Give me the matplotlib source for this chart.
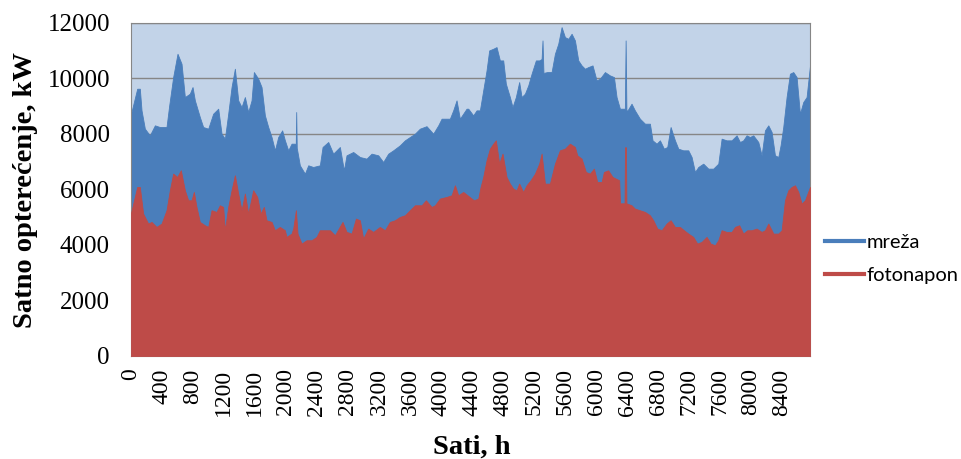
import matplotlib.pyplot as plt
from matplotlib.lines import Line2D

# hourly load over the year (kW), read at irregular hours
sati_ukupno = [0, 82, 116, 138, 181, 245, 310, 374, 460, 495, 546, 602, 654, 697,
               761, 796, 826, 890, 933, 998, 1062, 1127, 1170, 1213, 1256, 1299,
               1342, 1385, 1428, 1471, 1514, 1557, 1587, 1643, 1686, 1729, 1772,
               1815, 1858, 1901, 1952, 1987, 2030, 2073, 2116, 2127, 2133, 2140,
               2180, 2245, 2288, 2352, 2438, 2473, 2546, 2610, 2696, 2748, 2782,
               2868, 2954, 3040, 3105, 3191, 3255, 3320, 3384, 3470, 3535, 3599,
               3664, 3728, 3814, 3900, 3965, 4008, 4115, 4158, 4201, 4244, 4330,
               4352, 4416, 4459, 4502, 4545, 4588, 4622, 4674, 4717, 4760, 4803,
               4837, 4889, 4923, 4966, 5009, 5040, 5083, 5126, 5169, 5224, 5267,
               5298, 5310, 5322, 5371, 5427, 5470, 5513, 5556, 5599, 5642, 5685,
               5728, 5771, 5814, 5857, 5900, 5955, 6007, 6050, 6115, 6179, 6231,
               6265, 6308, 6372, 6382, 6392, 6407, 6458, 6501, 6566, 6631, 6695,
               6729, 6781, 6824, 6876, 6919, 6962, 7018, 7061, 7125, 7190, 7233,
               7276, 7319, 7383, 7448, 7512, 7577, 7620, 7684, 7749, 7813, 7856,
               7899, 7942, 7985, 8028, 8093, 8136, 8179, 8222, 8265, 8308, 8351,
               8381, 8415, 8458, 8501, 8544, 8587, 8630, 8673, 8716, 8760]
ukupno = [8700, 9630, 9630, 8850, 8190, 7950, 8310, 8250, 8250, 9030, 10050, 10890,
          10530, 9330, 9450, 9690, 9210, 8610, 8250, 8190, 8730, 8910, 8010, 7830,
          8730, 9690, 10350, 9210, 8970, 9330, 8790, 9210, 10230, 9990, 9690, 8670,
          8250, 7890, 7410, 7890, 8130, 7770, 7410, 7650, 7650, 7600, 8790, 7500,
          6870, 6570, 6870, 6810, 6870, 7530, 7710, 7290, 7530, 6690, 7230, 7350,
          7170, 7110, 7290, 7230, 6990, 7290, 7410, 7590, 7770, 7890, 8010, 8190,
          8280, 8010, 8310, 8550, 8550, 8850, 9210, 8550, 8910, 8910, 8670, 8850,
          8850, 9570, 10290, 11010, 11070, 11130, 10650, 10650, 9810, 9330, 8970,
          9330, 9870, 9330, 9450, 9750, 10170, 10650, 10650, 10700, 11370, 10200,
          10230, 10230, 10890, 11250, 11850, 11490, 11430, 11610, 11370, 10650,
          10470, 10350, 10410, 10470, 9930, 9990, 10230, 10110, 10050, 9330, 8910,
          8910, 11370, 8850, 8850, 9090, 8850, 8550, 8370, 8370, 7770, 7650, 7770,
          7470, 7530, 8250, 7770, 7470, 7410, 7410, 7170, 6630, 6810, 6930, 6750,
          6750, 6930, 7830, 7770, 7770, 7950, 7710, 7770, 7950, 7890, 7950, 7710,
          7230, 8130, 8310, 8070, 7230, 7170, 7600, 8250, 9330, 10170, 10230, 10050,
          8730, 9150, 9330, 10470]

sati_fv = [0, 82, 116, 159, 224, 267, 331, 396, 460, 503, 546, 598, 645, 697, 740,
           783, 813, 847, 890, 955, 998, 1041, 1105, 1148, 1191, 1213, 1256, 1299,
           1342, 1385, 1428, 1471, 1514, 1578, 1630, 1673, 1716, 1750, 1815, 1858,
           1922, 1987, 2008, 2073, 2095, 2129, 2150, 2202, 2266, 2331, 2395, 2438,
           2567, 2632, 2730, 2782, 2847, 2903, 2954, 2997, 3062, 3126, 3212, 3277,
           3341, 3406, 3470, 3535, 3599, 3664, 3750, 3806, 3879, 3922, 3986, 4072,
           4137, 4180, 4223, 4287, 4425, 4481, 4511, 4545, 4588, 4631, 4674, 4708,
           4751, 4794, 4846, 4889, 4932, 4975, 5009, 5061, 5104, 5156, 5212, 5267,
           5298, 5341, 5405, 5470, 5534, 5599, 5663, 5728, 5758, 5814, 5869, 5921,
           5973, 6016, 6072, 6102, 6157, 6213, 6299, 6310, 6368, 6374, 6386, 6392,
           6458, 6501, 6566, 6631, 6695, 6738, 6790, 6846, 6910, 6962, 7018, 7082,
           7134, 7190, 7254, 7306, 7362, 7426, 7478, 7534, 7577, 7620, 7684, 7749,
           7792, 7847, 7899, 7951, 8007, 8071, 8136, 8179, 8222, 8287, 8351, 8394,
           8437, 8480, 8523, 8566, 8609, 8652, 8695, 8760]
fotonapon = [5130, 6090, 6090, 5130, 4770, 4830, 4650, 4770, 5250, 5970, 6570, 6450,
             6690, 5970, 5610, 5610, 5910, 5370, 4830, 4710, 4650, 5250, 5190, 5430,
             5370, 4530, 5370, 5970, 6510, 5850, 5250, 5850, 5130, 5970, 5730, 5130,
             5370, 4890, 4830, 4530, 4650, 4530, 4290, 4410, 4600, 5250, 4410, 4050,
             4170, 4170, 4290, 4530, 4530, 4350, 4830, 4470, 4410, 4950, 4890, 4230,
             4590, 4470, 4650, 4530, 4830, 4890, 5010, 5070, 5250, 5430, 5430, 5610,
             5370, 5430, 5670, 5730, 5790, 6150, 5790, 5910, 5610, 5670, 6090, 6450,
             7050, 7470, 7650, 7770, 6930, 7290, 6450, 6210, 6030, 5970, 6210, 5910,
             6150, 6330, 6570, 6930, 7290, 6210, 6210, 6930, 7410, 7470, 7650, 7530,
             7230, 7110, 6630, 6570, 6750, 6270, 6270, 6630, 6690, 6450, 6330, 5500,
             5500, 7520, 7520, 5500, 5430, 5310, 5250, 5190, 5070, 4890, 4590, 4530,
             4770, 4890, 4650, 4650, 4530, 4410, 4290, 4050, 4110, 4290, 4050, 3990,
             4170, 4530, 4470, 4470, 4650, 4710, 4410, 4530, 4530, 4590, 4470, 4530,
             4770, 4410, 4410, 4530, 5610, 5970, 6090, 6150, 5910, 5490, 5610, 6090]

y_ticks = [0, 2000, 4000, 6000, 8000, 10000, 12000]
x_ticks = list(range(0, 8401, 400))

plava = '#4A7EBB'
crvena = '#BE4B48'
pozadina = '#C2D3E8'
siva = '#868686'

fig = plt.figure(figsize=(9.62, 4.59), dpi=100)
ax = fig.add_axes([0.136, 0.2245, 0.706, 0.7255])
ax.set_facecolor(pozadina)

ax.fill_between(sati_ukupno, 0, ukupno, color=plava, lw=0.6, zorder=2)
ax.fill_between(sati_fv, 0, fotonapon, color=crvena, lw=0.6, zorder=3)

ax.set_xlim(0, 8760)
ax.set_ylim(0, 12000)
ax.set_yticks(y_ticks)
ax.set_xticks(x_ticks)
ax.grid(axis='y', color=siva, lw=1.0, zorder=1)
ax.set_axisbelow(True)
for s in ax.spines.values():
    s.set_color(siva)
    s.set_linewidth(0.8)

ax.tick_params(axis='y', length=0, pad=15)
ax.tick_params(axis='x', length=0, pad=9)
for lbl in ax.get_yticklabels():
    lbl.set_fontfamily('Liberation Serif')
    lbl.set_fontsize(18)
for lbl in ax.get_xticklabels():
    lbl.set_fontfamily('Liberation Serif')
    lbl.set_fontsize(17)
    lbl.set_rotation(90)

fig.text(0.026, 0.585, 'Satno opterećenje, kW', rotation=90, ha='center', va='center',
         family='Liberation Serif', weight='bold', fontsize=20.5)
fig.text(0.49, 0.026, 'Sati, h', ha='center', va='center',
         family='Liberation Serif', weight='bold', fontsize=20.5)

handles = [Line2D([], [], color=plava, lw=3), Line2D([], [], color=crvena, lw=3)]
fig.legend(handles, ['mreža', 'fotonapon'], loc='center left',
           bbox_to_anchor=(0.858, 0.435), frameon=False, borderpad=0,
           borderaxespad=0, handlelength=1.9, handletextpad=0.15,
           labelspacing=0.8, prop={'family': 'Lato', 'size': 14.5})

fig.savefig('out.png', dpi=100)
